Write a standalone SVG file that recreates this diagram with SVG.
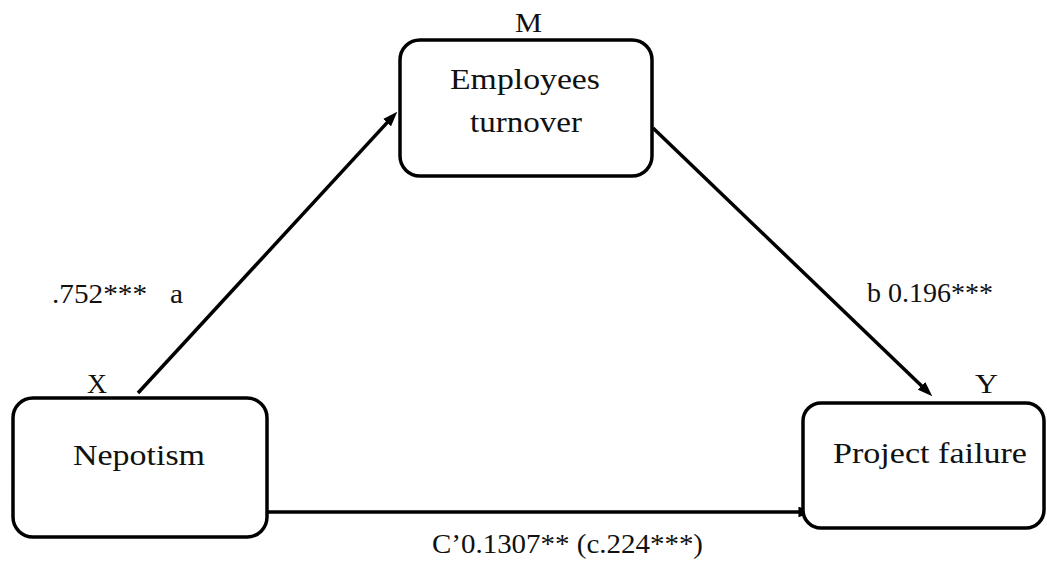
<svg xmlns="http://www.w3.org/2000/svg" width="1047" height="561" viewBox="0 0 1047 561">
<style>
.box{fill:#fff;stroke:#000;stroke-width:3.5}
.t{font-size:30px;fill:#111}
.lbl{font-size:27px;fill:#111}
.c{fill:none;stroke:#000;stroke-width:3.5}
</style>
<defs>
<marker id="ah" viewBox="0 0 14 10" refX="8" refY="5" markerUnits="userSpaceOnUse" markerWidth="15" markerHeight="11" orient="auto">
<path d="M0,0 L14,5 L0,10 z" fill="#000"/>
</marker>
</defs>
<rect width="1047" height="561" fill="#fff"/>
<g id="connectors">
<line class="c" x1="138" y1="393" x2="392.9" y2="116.4" marker-end="url(#ah)"/>
<line class="c" x1="653" y1="128" x2="927.7" y2="391.8" marker-end="url(#ah)"/>
<line class="c" x1="267" y1="512" x2="807" y2="512" marker-end="url(#ah)"/>
</g>
<g font-family="Liberation Serif, Times New Roman, serif">
<g id="node-m">
<rect class="box" x="400" y="40" width="252" height="136" rx="20"/>
<text class="t" x="450" y="89" textLength="150" lengthAdjust="spacingAndGlyphs">Employees</text>
<text class="t" x="470" y="132" textLength="112" lengthAdjust="spacingAndGlyphs">turnover</text>
<text class="lbl" x="515" y="32" textLength="27" lengthAdjust="spacingAndGlyphs">M</text>
</g>
<g id="node-x">
<rect class="box" x="13" y="398" width="254" height="139" rx="20"/>
<text class="t" x="73" y="465" textLength="132" lengthAdjust="spacingAndGlyphs">Nepotism</text>
<text class="lbl" x="87" y="393" textLength="20" lengthAdjust="spacingAndGlyphs">X</text>
</g>
<g id="node-y">
<rect class="box" x="803" y="403" width="241" height="125" rx="18"/>
<text class="t" x="833" y="463" textLength="194" lengthAdjust="spacingAndGlyphs">Project failure</text>
<text class="lbl" x="975" y="393" textLength="23" lengthAdjust="spacingAndGlyphs">Y</text>
</g>
<g id="labels">
<text class="lbl" x="52" y="303" textLength="95" lengthAdjust="spacingAndGlyphs">.752***</text>
<text class="lbl" x="170" y="303" textLength="13" lengthAdjust="spacingAndGlyphs">a</text>
<text class="lbl" x="867" y="302" textLength="126" lengthAdjust="spacingAndGlyphs">b 0.196***</text>
<text class="lbl" x="432" y="553" textLength="271" lengthAdjust="spacingAndGlyphs">C’0.1307** (c.224***)</text>
</g>
</g>
</svg>
